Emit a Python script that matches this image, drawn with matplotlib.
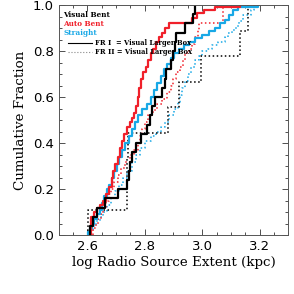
import matplotlib
matplotlib.use("Agg")
import matplotlib.pyplot as plt
from matplotlib.ticker import MultipleLocator

# Step curves: x where each step happens, cumulative fraction after the step
vb_fr1_x = [2.608, 2.620, 2.633, 2.663, 2.706, 2.738, 2.744, 2.749, 2.757, 2.769,
            2.786, 2.809, 2.817, 2.824, 2.836, 2.861, 2.869, 2.875, 2.892, 2.898,
            2.905, 2.910, 2.941, 2.968, 2.976]
vb_fr1_y = [0.04, 0.08, 0.12, 0.16, 0.20, 0.24, 0.28, 0.32, 0.36, 0.40,
            0.44, 0.48, 0.52, 0.56, 0.60, 0.64, 0.68, 0.72, 0.76, 0.80,
            0.84, 0.88, 0.92, 0.96, 1.00]

vb_fr2_x = [2.602, 2.738, 2.740, 2.742, 2.882, 2.918, 2.995, 3.133, 3.160]
vb_fr2_y = [0.111, 0.222, 0.333, 0.444, 0.556, 0.667, 0.778, 0.889, 1.0]

ab_fr1_x = [2.614, 2.625, 2.633, 2.643, 2.654, 2.666, 2.677, 2.685, 2.691, 2.698,
            2.706, 2.714, 2.721, 2.729, 2.737, 2.748, 2.757, 2.763, 2.769, 2.775,
            2.780, 2.786, 2.795, 2.803, 2.813, 2.821, 2.829, 2.838, 2.849, 2.861,
            2.872, 2.886, 2.964, 2.982, 3.005, 3.045, 3.131]
ab_fr1_y = [0.08, 0.10, 0.12, 0.13, 0.15, 0.18, 0.21, 0.25, 0.28, 0.31,
            0.34, 0.38, 0.41, 0.44, 0.47, 0.49, 0.51, 0.53, 0.56, 0.60,
            0.64, 0.68, 0.71, 0.73, 0.76, 0.79, 0.81, 0.84, 0.86, 0.88,
            0.90, 0.92, 0.945, 0.964, 0.978, 0.993, 1.0]

ab_fr2_x = [2.620, 2.629, 2.637, 2.648, 2.656, 2.666, 2.675, 2.683, 2.694, 2.706,
            2.717, 2.732, 2.748, 2.763, 2.775, 2.783, 2.792, 2.801, 2.813, 2.829,
            2.844, 2.861, 2.878, 2.890, 2.898, 2.909, 2.924, 2.932, 2.941, 2.953,
            2.964, 2.976, 2.985, 2.990, 3.074]
ab_fr2_y = [0.03, 0.05, 0.07, 0.09, 0.12, 0.15, 0.18, 0.20, 0.23, 0.26,
            0.29, 0.32, 0.35, 0.37, 0.40, 0.43, 0.46, 0.49, 0.52, 0.545,
            0.57, 0.59, 0.62, 0.65, 0.68, 0.71, 0.73, 0.76, 0.79, 0.81,
            0.83, 0.86, 0.89, 0.92, 1.0]

st_fr1_x = [2.602, 2.608, 2.617, 2.625, 2.633, 2.643, 2.652, 2.660, 2.668, 2.677,
            2.686, 2.694, 2.702, 2.711, 2.721, 2.732, 2.744, 2.755, 2.767, 2.778,
            2.792, 2.807, 2.821, 2.832, 2.844, 2.855, 2.867, 2.878, 2.890, 2.903,
            2.918, 2.936, 2.953, 2.976, 2.999, 3.022, 3.045, 3.062, 3.079, 3.093,
            3.108, 3.125, 3.194]
st_fr1_y = [0.015, 0.03, 0.05, 0.07, 0.09, 0.11, 0.14, 0.17, 0.20, 0.22,
            0.25, 0.28, 0.31, 0.34, 0.37, 0.40, 0.43, 0.46, 0.49, 0.52,
            0.55, 0.57, 0.60, 0.63, 0.66, 0.69, 0.72, 0.745, 0.77, 0.79,
            0.81, 0.825, 0.84, 0.855, 0.87, 0.885, 0.90, 0.92, 0.935, 0.955,
            0.98, 0.99, 1.0]

st_fr2_x = [2.608, 2.620, 2.631, 2.643, 2.656, 2.668, 2.683, 2.698, 2.711, 2.725,
            2.740, 2.755, 2.769, 2.784, 2.800, 2.821, 2.838, 2.855, 2.869, 2.884,
            2.901, 2.915, 2.924, 2.930, 2.939, 2.951, 2.962, 2.976, 2.990, 3.001,
            3.020, 3.033, 3.056, 3.079, 3.091, 3.102, 3.116, 3.128, 3.143, 3.171,
            3.180]
st_fr2_y = [0.02, 0.04, 0.06, 0.08, 0.10, 0.13, 0.16, 0.19, 0.22, 0.25,
            0.28, 0.32, 0.35, 0.38, 0.41, 0.43, 0.45, 0.47, 0.49, 0.52,
            0.55, 0.58, 0.61, 0.64, 0.67, 0.70, 0.73, 0.76, 0.78, 0.80,
            0.81, 0.826, 0.84, 0.86, 0.88, 0.89, 0.91, 0.93, 0.956, 0.978,
            1.0]

BLACK = "#000000"
RED = "#f0202a"
BLUE = "#18a8e6"

fig = plt.figure(figsize=(2.94, 2.94), dpi=100)
ax = fig.add_axes([0.199, 0.2, 0.782, 0.783])


def draw(xs, ys, color, ls, lw):
    px = [xs[0]] + list(xs)
    py = [0.0] + list(ys)
    ax.step(px, py, where="post", color=color, linestyle=ls, linewidth=lw)


draw(st_fr2_x, st_fr2_y, BLUE, ":", 1.1)
draw(ab_fr2_x, ab_fr2_y, RED, ":", 1.1)
draw(vb_fr2_x, vb_fr2_y, BLACK, ":", 1.1)
draw(st_fr1_x, st_fr1_y, BLUE, "-", 1.6)
draw(ab_fr1_x, ab_fr1_y, RED, "-", 1.6)
draw(vb_fr1_x, vb_fr1_y, BLACK, "-", 1.6)

ax.set_xlim(2.5, 3.3)
ax.set_ylim(0.0, 1.0)
ax.xaxis.set_major_locator(MultipleLocator(0.2))
ax.xaxis.set_minor_locator(MultipleLocator(0.05))
ax.yaxis.set_major_locator(MultipleLocator(0.2))
ax.yaxis.set_minor_locator(MultipleLocator(0.05))
ax.tick_params(which="both", direction="in", top=True, right=True,
               labelsize=9.5, colors="#333333", labelcolor="black")
ax.tick_params(which="major", length=4, width=0.6)
ax.tick_params(which="minor", length=2, width=0.6)
ax.set_xticks(ax.get_xticks())
ax.set_xticklabels([f"{v:.1f}" for v in ax.get_xticks()], fontweight="medium")
ax.set_yticks(ax.get_yticks())
ax.set_yticklabels([f"{v:.1f}" for v in ax.get_yticks()], fontweight="medium")
ax.set_xlim(2.5, 3.3)
ax.set_ylim(0.0, 1.0)
for s in ax.spines.values():
    s.set_color("#555555")
    s.set_linewidth(0.7)

ax.set_xlabel("log Radio Source Extent (kpc)", family="DejaVu Serif", fontsize=9.6, labelpad=2)
ax.set_ylabel("Cumulative Fraction", family="DejaVu Serif", fontsize=9.6, labelpad=4)

# Legend
ax.text(0.02, 0.957, "Visual Bent", transform=ax.transAxes, color=BLACK, fontsize=5.2,
        family="DejaVu Serif", fontweight="bold", va="center")
ax.text(0.02, 0.917, "Auto Bent", transform=ax.transAxes, color=RED, fontsize=5.2,
        family="DejaVu Serif", fontweight="bold", va="center")
ax.text(0.02, 0.878, "Straight", transform=ax.transAxes, color=BLUE, fontsize=5.2,
        family="DejaVu Serif", fontweight="bold", va="center")
ax.plot([0.04, 0.145], [0.835, 0.835], transform=ax.transAxes, color=BLACK, lw=0.8)
ax.plot([0.04, 0.145], [0.796, 0.796], transform=ax.transAxes, color="#888888", lw=0.8, ls=":")
ax.text(0.16, 0.835, "FR I  = Visual Larger Box", transform=ax.transAxes, color=BLACK,
        fontsize=4.9, family="DejaVu Serif", fontweight="bold", va="center")
ax.text(0.16, 0.796, "FR II = Visual Larger Box", transform=ax.transAxes, color=BLACK,
        fontsize=4.9, family="DejaVu Serif", fontweight="bold", va="center")

fig.savefig("out.png", dpi=100)
